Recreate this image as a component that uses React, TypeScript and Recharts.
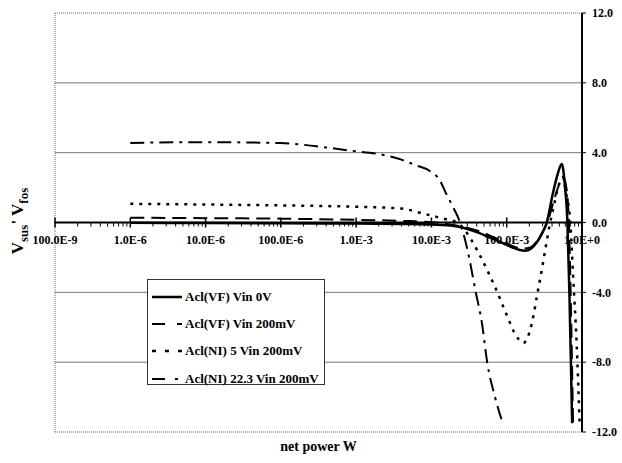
import React from 'react';
import { LineChart, Line, XAxis, YAxis, ReferenceLine, ReferenceDot, Legend } from 'recharts';

// x axis: net power (W), log scale
const powerTicks = [1e-7, 1e-6, 1e-5, 1e-4, 1e-3, 1e-2, 1e-1, 1];
const powerTickLabels = ['100.0E-9', '1.0E-6', '10.0E-6', '100.0E-6', '1.0E-3', '10.0E-3', '100.0E-3', '1.0E+0'];
const voltTicks = [-12, -8, -4, 0, 4, 8, 12];
const gridVolts = [-8, -4, 4, 8];

// Acl(VF) Vin 0V
const vf0Power = [1e-6, 1e-5, 1e-4, 1e-3, 5e-3, 0.01, 0.02, 0.04, 0.06, 0.09, 0.12, 0.15, 0.175, 0.21, 0.25, 0.3, 0.34, 0.41, 0.47, 0.54, 0.59, 0.64, 0.68, 0.72, 0.74];
const vf0Volt = [-0.02, -0.03, -0.04, -0.06, -0.08, -0.12, -0.2, -0.55, -0.86, -1.2, -1.43, -1.58, -1.62, -1.5, -1.15, -0.55, 0.0, 1.66, 2.7, 3.35, 2.2, 0.0, -4.0, -9.0, -11.5];

// Acl(VF) Vin 200mV
const vf200Power = [1e-6, 1e-5, 1e-4, 1e-3, 5e-3, 0.01, 0.02, 0.04, 0.06, 0.09, 0.12, 0.16, 0.2, 0.25, 0.3, 0.35, 0.42, 0.5, 0.57, 0.62, 0.67, 0.71, 0.76];
const vf200Volt = [0.27, 0.25, 0.22, 0.15, 0.08, 0.02, -0.15, -0.45, -0.75, -1.1, -1.35, -1.5, -1.45, -1.1, -0.55, 0.05, 1.2, 2.2, 2.55, 2.0, 0.0, -4.5, -11.5];

// Acl(NI) 5 Vin 200mV
const ni5Power = [1e-6, 1e-5, 1e-4, 1e-3, 4e-3, 7e-3, 0.011, 0.016, 0.022, 0.028, 0.035, 0.048, 0.07, 0.1, 0.13, 0.166, 0.2, 0.23, 0.25, 0.29, 0.33, 0.37, 0.42, 0.48, 0.55, 0.62, 0.7, 0.76, 0.85, 0.93];
const ni5Volt = [1.07, 1.03, 0.98, 0.9, 0.8, 0.56, 0.35, 0.17, 0.0, -0.46, -1.1, -2.2, -3.7, -5.3, -6.4, -6.9, -6.3, -5.2, -4.3, -2.8, -1.4, -0.2, 0.9, 2.0, 2.6, 1.6, 0.0, -3.0, -7.0, -11.5];

// Acl(NI) 22.3 Vin 200mV
const ni22Power = [1e-6, 1e-5, 1e-4, 2e-4, 4e-4, 8e-4, 2e-3, 4e-3, 6e-3, 0.0095, 0.013, 0.0155, 0.0193, 0.024, 0.032, 0.038, 0.047, 0.055, 0.07, 0.087];
const ni22Volt = [4.56, 4.6, 4.55, 4.45, 4.3, 4.12, 3.92, 3.6, 3.3, 2.95, 2.4, 1.7, 0.9, 0.0, -2.1, -3.8, -5.8, -8.0, -10.0, -11.4];

const seriesNames = ['Acl(VF) Vin 0V', 'Acl(VF) Vin 200mV', 'Acl(NI) 5 Vin 200mV', 'Acl(NI) 22.3 Vin 200mV'];
const seriesDash = ['', '14 7', '3 6', '14 6 3 6'];
const legendDash = ['', '13 12', '4 9', '13 10 3 20'];
const seriesWidth = [2.5, 2, 2.5, 2];

const toRows = (p: number[], v: number[]) => p.map((x, i) => ({ power: x, volt: v[i] }));
const seriesData = [
  toRows(vf0Power, vf0Volt),
  toRows(vf200Power, vf200Volt),
  toRows(ni5Power, ni5Volt),
  toRows(ni22Power, ni22Volt),
];

// log minor ticks on the zero line
const minorTicks: number[] = [];
for (let d = -7; d < 0; d++) {
  for (let m = 2; m <= 9; m++) minorTicks.push(m * Math.pow(10, d));
}

const font = 'Liberation Serif, Tinos, DejaVu Serif, serif';

function LegendBox() {
  return (
    <div style={{ border: '1px solid #333', background: '#fff', width: 178, height: 106, padding: '3px 0 0 3px', boxSizing: 'border-box', fontFamily: font }}>
      {seriesNames.map((name, i) => (
        <div key={name} style={{ display: 'flex', alignItems: 'center', height: 27.4 }}>
          <svg width={32} height={10}>
            <line x1={1} y1={5} x2={31} y2={5} stroke="#000" strokeWidth={seriesWidth[i]} strokeDasharray={legendDash[i]} />
          </svg>
          <span style={{ fontFamily: font, fontWeight: 'bold', fontSize: 13, marginLeft: 2, whiteSpace: 'nowrap' }}>{name}</span>
        </div>
      ))}
    </div>
  );
}

export default function App() {
  return (
    <div style={{ position: 'absolute', left: 0, top: 0, width: 622, height: 463, background: '#fff', fontFamily: font }}>
      <LineChart width={622} height={463} margin={{ top: 13, right: 0, bottom: 31, left: 55 }} style={{ fontFamily: font }}>
        <XAxis dataKey="power" type="number" scale="log" domain={[1e-7, 1]} ticks={powerTicks} hide allowDataOverflow />
        <YAxis
          orientation="right"
          type="number"
          domain={[-12, 12]}
          ticks={voltTicks}
          width={40}
          tickSize={4}
          tickMargin={6}
          axisLine={{ stroke: '#000', strokeWidth: 2 }}
          tickLine={{ stroke: '#000' }}
          tick={{ fill: '#000', fontSize: 12, fontWeight: 'bold', fontFamily: font }}
          tickFormatter={(v: number) => v.toFixed(1)}
          allowDataOverflow
        />
        <ReferenceLine y={12} stroke="#666" strokeDasharray="1 1" />
        <ReferenceLine y={-12} stroke="#666" strokeDasharray="1 1" />
        <ReferenceLine x={1e-7} stroke="#666" strokeDasharray="1 1" />
        {gridVolts.map((v) => (
          <ReferenceLine key={v} y={v} stroke="#777" strokeWidth={1} />
        ))}
        <ReferenceLine y={0} stroke="#000" strokeWidth={2} />
        {minorTicks.map((t) => (
          <ReferenceDot
            key={'m' + t}
            x={t}
            y={0}
            r={0}
            ifOverflow="visible"
            shape={(p: any) => <line x1={p.cx} y1={p.cy} x2={p.cx} y2={p.cy + 4} stroke="#000" strokeWidth={1} />}
          />
        ))}
        {powerTicks.map((t, i) => (
          <ReferenceDot
            key={'t' + t}
            x={t}
            y={0}
            r={0}
            ifOverflow="visible"
            shape={(p: any) => (
              <g>
                <line x1={p.cx} y1={p.cy - 5} x2={p.cx} y2={p.cy + 5} stroke="#000" strokeWidth={1.5} />
                <text x={p.cx} y={p.cy + 21} textAnchor="middle" fontSize={12} fontWeight="bold" fontFamily={font} fill="#000">
                  {powerTickLabels[i]}
                </text>
              </g>
            )}
          />
        ))}
        {seriesNames.map((name, i) => (
          <Line
            key={name}
            name={name}
            data={seriesData[i]}
            dataKey="volt"
            type="monotone"
            stroke="#000"
            strokeWidth={seriesWidth[i]}
            strokeDasharray={seriesDash[i] || undefined}
            dot={false}
            isAnimationActive={false}
          />
        ))}
        <Legend
          layout="horizontal"
          verticalAlign="middle"
          align="center"
          content={<LegendBox />}
          wrapperStyle={{ left: 147, top: 279, width: 178, height: 106 }}
        />
      </LineChart>
      <div
        style={{
          position: 'absolute',
          left: 20,
          top: 221,
          transform: 'translate(-50%, -50%) rotate(-90deg)',
          whiteSpace: 'nowrap',
          fontWeight: 'bold',
          fontSize: 17,
        }}
      >
        V<sub style={{ fontSize: 13 }}>sus</sub>' V<sub style={{ fontSize: 13 }}>fos</sub>
      </div>
      <div style={{ position: 'absolute', left: 55, width: 527, top: 439, textAlign: 'center', fontWeight: 'bold', fontSize: 14 }}>
        net power W
      </div>
    </div>
  );
}
